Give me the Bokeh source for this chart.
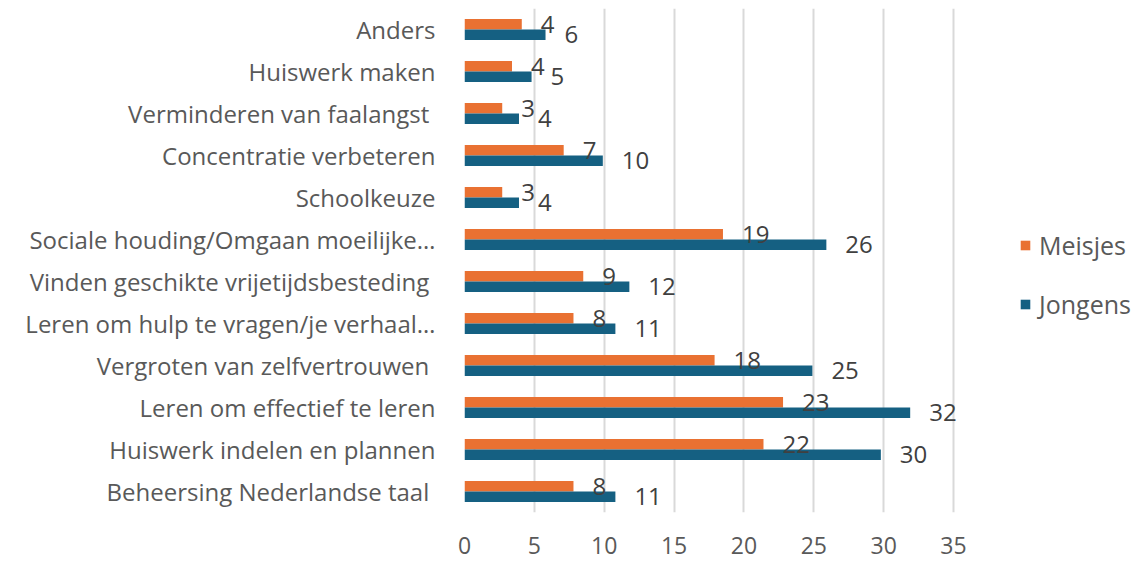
from bokeh.plotting import figure
from bokeh.models import FactorRange, Range1d, Legend, LegendItem, FixedTicker, ColumnDataSource
from bokeh.transform import dodge
from bokeh.core.properties import value
from bokeh.embed import file_html
from bokeh.resources import INLINE

# categories listed bottom -> top
categories = [
    "Beheersing  Nederlandse taal",
    "Huiswerk indelen en plannen",
    "Leren om effectief te leren",
    "Vergroten van zelfvertrouwen ",
    "Leren om hulp te vragen/je verhaal…",
    "Vinden  geschikte vrijetijdsbesteding",
    "Sociale houding/Omgaan moeilijke…",
    "Schoolkeuze",
    "Concentratie verbeteren",
    "Verminderen van faalangst ",
    "Huiswerk maken",
    "Anders",
]
meisjes = [7.8, 21.4, 22.8, 17.9, 7.8, 8.5, 18.5, 2.7, 7.1, 2.7, 3.4, 4.1]
jongens = [10.8, 29.8, 31.9, 24.9, 10.8, 11.8, 25.9, 3.9, 9.9, 3.9, 4.8, 5.8]
meisjes_labels = ["8", "22", "23", "18", "8", "9", "19", "3", "7", "3", "4", "4"]
jongens_labels = ["11", "30", "32", "25", "11", "12", "26", "4", "10", "4", "5", "6"]
x_ticks = [0, 5, 10, 15, 20, 25, 30, 35]

ORANGE = "#E97132"
BLUE = "#156082"
FONT = "Open Sans"

src = ColumnDataSource(dict(cat=categories, m=meisjes, j=jongens,
                            ml=meisjes_labels, jl=jongens_labels))

p = figure(width=1137, height=563, output_backend="svg", toolbar_location=None,
           y_range=FactorRange(factors=categories),
           x_range=Range1d(0, 35 * 673 / 489),
           min_border_left=464, min_border_right=0, min_border_top=8, min_border_bottom=51)
p.outline_line_color = None
p.background_fill_color = "white"
p.border_fill_color = "white"

r_m = p.hbar(y=dodge("cat", 0.125, range=p.y_range), right="m", left=0, height=0.25,
             source=src, fill_color=ORANGE, line_color=None)
r_j = p.hbar(y=dodge("cat", -0.125, range=p.y_range), right="j", left=0, height=0.25,
             source=src, fill_color=BLUE, line_color=None)

p.text(x="m", y=dodge("cat", 0.125, range=p.y_range), text="ml", source=src,
       x_offset=19, text_baseline="middle", text_align="left",
       text_font=value(FONT), text_font_size="24px", text_color="#404040")
p.text(x="j", y=dodge("cat", -0.125, range=p.y_range), text="jl", source=src,
       x_offset=19, text_baseline="middle", text_align="left",
       text_font=value(FONT), text_font_size="24px", text_color="#404040")

# axes
p.xaxis.ticker = FixedTicker(ticks=x_ticks)
p.xaxis.axis_line_color = None
p.xaxis.major_tick_line_color = None
p.xaxis.minor_tick_line_color = None
p.xaxis.major_tick_out = 0
p.xaxis.major_label_standoff = 24
p.xaxis.major_label_text_font = FONT
p.xaxis.major_label_text_font_size = "23px"
p.xaxis.major_label_text_color = "#595959"

p.yaxis.axis_line_color = None
p.yaxis.major_tick_line_color = None
p.yaxis.minor_tick_line_color = None
p.yaxis.major_tick_out = 0
p.yaxis.major_label_standoff = 29
p.yaxis.major_label_text_font = FONT
p.yaxis.major_label_text_font_size = "24px"
p.yaxis.major_label_text_color = "#595959"

p.xgrid.grid_line_color = "#d9d9d9"
p.xgrid.grid_line_width = 2
p.ygrid.grid_line_color = None

legend = Legend(items=[LegendItem(label="Meisjes", renderers=[r_m]),
                       LegendItem(label="Jongens", renderers=[r_j])],
                location=(555, 191), orientation="vertical",
                glyph_width=12, glyph_height=12, label_standoff=8,
                label_height=30, spacing=25, padding=0, margin=0,
                border_line_color=None, background_fill_alpha=0,
                label_text_font=FONT, label_text_font_size="25px",
                label_text_color="#595959")
p.add_layout(legend, "center")

open("out.html", "w").write(file_html(p, INLINE))
